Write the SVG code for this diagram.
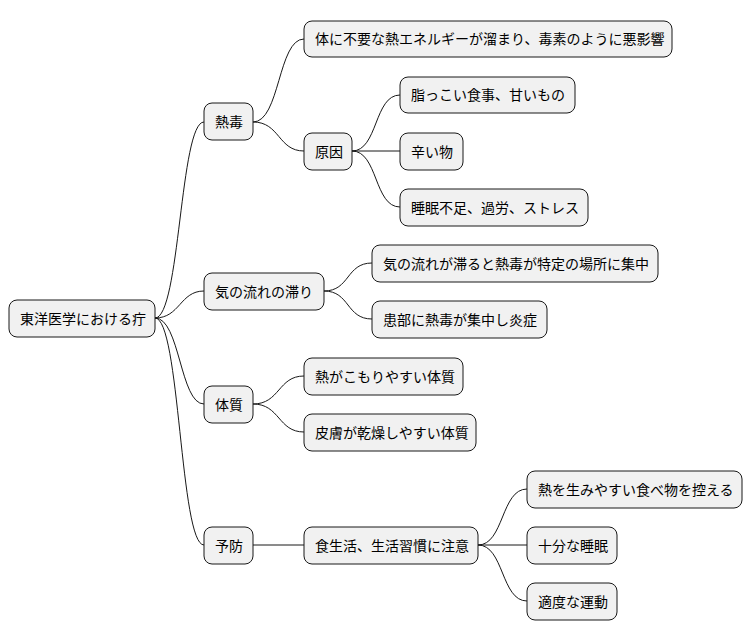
<svg xmlns="http://www.w3.org/2000/svg" width="754" height="640" viewBox="0 0 754 640">
<style>
g rect{fill:#f1f1f1;stroke:#181818;stroke-width:1}
text{font-family:"Noto Sans CJK JP","Noto Sans CJK SC",sans-serif;font-size:14px;fill:#000;dominant-baseline:central}
#edges path{fill:none;stroke:#181818;stroke-width:1}
</style>
<rect width="754" height="640" style="fill:#fff;stroke:none"/>
<g id="edges">
<path d="M155,318 C180,318 180,122 204,122"/>
<path d="M155,318 C180,318 180,291 204,291"/>
<path d="M155,318 C180,318 180,404 204,404"/>
<path d="M155,318 C180,318 180,545 204,545"/>
<path d="M253,122 C280,122 278,39 304,39"/>
<path d="M253,122 C280,122 278,151 304,151"/>
<path d="M352,151 C378,151 374,95 400,95"/>
<path d="M352,151 L400,151"/>
<path d="M352,151 C378,151 374,207 400,207"/>
<path d="M324,291 C350,291 346,263 372,263"/>
<path d="M324,291 C350,291 346,319 372,319"/>
<path d="M253,404 C280,404 278,376 304,376"/>
<path d="M253,404 C280,404 278,432 304,432"/>
<path d="M253,545 L304,545"/>
<path d="M478,545 C504,545 501,489 527,489"/>
<path d="M478,545 L527,545"/>
<path d="M478,545 C504,545 501,601 527,601"/>
</g>
<g id="root"><rect x="9" y="300" width="146" height="37" rx="8"/><text x="20" y="317.5">東洋医学における疔</text></g>
<g id="n1"><rect x="204" y="103" width="49" height="37" rx="8"/><text x="215" y="120.5">熱毒</text></g>
<g id="n1a"><rect x="304" y="21" width="368" height="36" rx="8"/><text x="315" y="38">体に不要な熱エネルギーが溜まり、毒素のように悪影響</text></g>
<g id="n1b"><rect x="304" y="133" width="48" height="37" rx="8"/><text x="315" y="150.5">原因</text></g>
<g id="n1b1"><rect x="400" y="77" width="175" height="36" rx="8"/><text x="411" y="94">脂っこい食事、甘いもの</text></g>
<g id="n1b2"><rect x="400" y="133" width="63" height="37" rx="8"/><text x="411" y="150.5">辛い物</text></g>
<g id="n1b3"><rect x="400" y="189" width="188" height="37" rx="8"/><text x="411" y="206.5">睡眠不足、過労、ストレス</text></g>
<g id="n2"><rect x="204" y="273" width="120" height="37" rx="8"/><text x="215" y="290.5">気の流れの滞り</text></g>
<g id="n2a"><rect x="372" y="245" width="286" height="37" rx="8"/><text x="383" y="262.5">気の流れが滞ると熱毒が特定の場所に集中</text></g>
<g id="n2b"><rect x="372" y="301" width="175" height="37" rx="8"/><text x="383" y="318.5">患部に熱毒が集中し炎症</text></g>
<g id="n3"><rect x="204" y="386" width="49" height="37" rx="8"/><text x="215" y="403.5">体質</text></g>
<g id="n3a"><rect x="304" y="358" width="159" height="37" rx="8"/><text x="315" y="375.5">熱がこもりやすい体質</text></g>
<g id="n3b"><rect x="304" y="414" width="172" height="37" rx="8"/><text x="315" y="431.5">皮膚が乾燥しやすい体質</text></g>
<g id="n4"><rect x="204" y="527" width="49" height="37" rx="8"/><text x="215" y="544.5">予防</text></g>
<g id="n4a"><rect x="304" y="527" width="174" height="37" rx="8"/><text x="315" y="544.5">食生活、生活習慣に注意</text></g>
<g id="n4a1"><rect x="527" y="471" width="215" height="37" rx="8"/><text x="538" y="488.5">熱を生みやすい食べ物を控える</text></g>
<g id="n4a2"><rect x="527" y="527" width="90" height="37" rx="8"/><text x="538" y="544.5">十分な睡眠</text></g>
<g id="n4a3"><rect x="527" y="583" width="90" height="37" rx="8"/><text x="538" y="600.5">適度な運動</text></g>
</svg>
